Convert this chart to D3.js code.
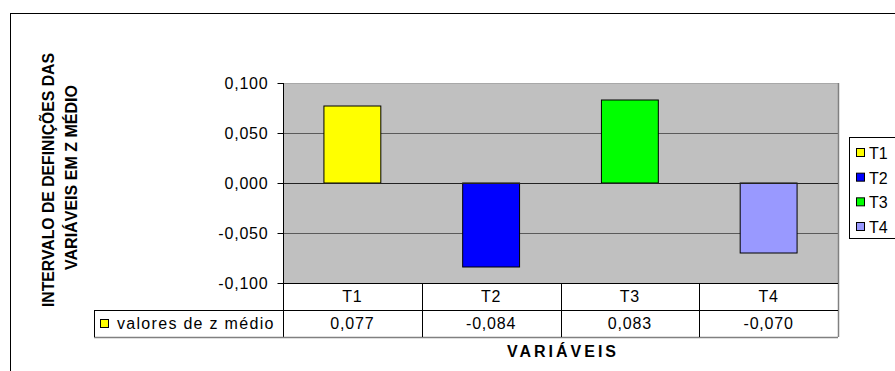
<!DOCTYPE html>
<html>
<head>
<meta charset="utf-8">
<script src="https://cdn.jsdelivr.net/npm/d3@7"></script>
<style>
  html, body { margin: 0; padding: 0; background: #fff; }
  svg { display: block; }
  text { font-family: "Liberation Sans", Arial, sans-serif; fill: #000; }
</style>
</head>
<body>
<svg id="chart" width="895" height="371"></svg>
<script>
// Treatments and their mean z values
const categories = ["T1", "T2", "T3", "T4"];
const values = [0.077, -0.084, 0.083, -0.070];
const colors = ["#FFFF00", "#0000FF", "#00FF00", "#9999FF"];
const yTicks = [0.1, 0.05, 0, -0.05, -0.1];
const seriesName = "valores de z médio";
const yTitle = ["INTERVALO DE DEFINIÇÕES DAS", "VARIÁVEIS EM Z MÉDIO"];
const xTitle = "VARIÁVEIS";

const svg = d3.select("#chart");
const ptBR = d3.formatLocale({ decimal: ",", thousands: ".", grouping: [3], currency: ["R$", ""], minus: "-" });
const fmt = ptBR.format(".3f");

const plot = { left: 283, right: 838, top: 83, bottom: 283 };
const rowH = 27;
const tableLeft = 94;

const x = d3.scaleBand().domain(categories).range([plot.left, plot.right]).padding(0);
const y = d3.scaleLinear().domain([-0.1, 0.1]).range([plot.bottom, plot.top]);
const barW = x.bandwidth() * 0.41;

// outer frame
svg.append("rect").attr("x", 10.5).attr("y", 13.5).attr("width", 900).attr("height", 400)
  .attr("fill", "none").attr("stroke", "#000");

// plot background
svg.append("rect").attr("x", plot.left).attr("y", plot.top)
  .attr("width", plot.right - plot.left).attr("height", plot.bottom - plot.top)
  .attr("fill", "#C0C0C0");
svg.append("line").attr("x1", plot.left).attr("x2", plot.right)
  .attr("y1", plot.top + 0.5).attr("y2", plot.top + 0.5).attr("stroke", "#a8a8a8");

// gridlines
svg.append("g").selectAll("line").data(yTicks.filter(t => t !== 0 && t !== -0.1 && t !== 0.1))
  .join("line")
  .attr("x1", plot.left).attr("x2", plot.right)
  .attr("y1", d => Math.round(y(d)) + 0.5).attr("y2", d => Math.round(y(d)) + 0.5)
  .attr("stroke", "#5a5a5a").attr("stroke-width", 1.2);

// plot right border
svg.append("line").attr("x1", plot.right + 0.5).attr("x2", plot.right + 0.5)
  .attr("y1", plot.top).attr("y2", plot.bottom + 2 * rowH).attr("stroke", "#808080").attr("stroke-width", 1.5);

// bars
svg.append("g").selectAll("rect").data(categories).join("rect")
  .attr("x", d => x(d) + (x.bandwidth() - barW) / 2)
  .attr("y", (d, i) => y(Math.max(0, values[i])))
  .attr("width", barW)
  .attr("height", (d, i) => Math.abs(y(values[i]) - y(0)))
  .attr("fill", (d, i) => colors[i])
  .attr("stroke", "#000").attr("stroke-width", 1);

// zero line
svg.append("line").attr("x1", plot.left).attr("x2", plot.right)
  .attr("y1", y(0) + 0.5).attr("y2", y(0) + 0.5).attr("stroke", "#222");

// y axis
const yAxis = d3.axisLeft(y).tickValues(yTicks).tickFormat(fmt).tickSize(6).tickPadding(9);
const gy = svg.append("g").attr("transform", `translate(${plot.left + 0.5},0)`).call(yAxis);
gy.select(".domain").remove();
gy.append("line").attr("x1", 0).attr("x2", 0).attr("y1", plot.top).attr("y2", plot.bottom + 2 * rowH).attr("stroke", "#000");
gy.selectAll(".tick line").attr("stroke", "#000");
gy.selectAll(".tick text").attr("font-size", 16).attr("letter-spacing", 0.8)
  .style("font-family", "'Liberation Sans', Arial, sans-serif").attr("fill", "#000");

// data table
const table = svg.append("g");
[plot.bottom, plot.bottom + rowH, plot.bottom + 2 * rowH].forEach((yy, i) => {
  table.append("line")
    .attr("x1", i === 0 ? plot.left : tableLeft).attr("x2", plot.right)
    .attr("y1", yy + 0.5).attr("y2", yy + 0.5)
    .attr("stroke", i === 2 ? "#808080" : "#000").attr("stroke-width", i === 2 ? 1.5 : 1);
});
table.append("line").attr("x1", tableLeft + 0.5).attr("x2", tableLeft + 0.5)
  .attr("y1", plot.bottom + rowH).attr("y2", plot.bottom + 2 * rowH).attr("stroke", "#000");
categories.slice(1).forEach(c => {
  table.append("line").attr("x1", Math.round(x(c)) + 0.5).attr("x2", Math.round(x(c)) + 0.5)
    .attr("y1", plot.bottom).attr("y2", plot.bottom + 2 * rowH).attr("stroke", "#000");
});
table.selectAll("text.cat").data(categories).join("text").attr("class", "cat")
  .attr("x", d => x(d) + x.bandwidth() / 2).attr("y", plot.bottom + 19)
  .attr("text-anchor", "middle").attr("font-size", 16).attr("letter-spacing", 0.8)
  .text(d => d);
table.selectAll("text.val").data(values).join("text").attr("class", "val")
  .attr("x", (d, i) => x(categories[i]) + x.bandwidth() / 2).attr("y", plot.bottom + rowH + 19)
  .attr("text-anchor", "middle").attr("font-size", 16).attr("letter-spacing", 0.8)
  .text(d => fmt(d));
table.append("rect").attr("x", 100.5).attr("y", plot.bottom + rowH + 9.5).attr("width", 8).attr("height", 8)
  .attr("fill", "#FFFF00").attr("stroke", "#000");
table.append("text").attr("x", 117).attr("y", plot.bottom + rowH + 19)
  .attr("font-size", 16).attr("letter-spacing", 1.3).text(seriesName);

// axis titles
svg.append("text").attr("x", 563).attr("y", 357).attr("text-anchor", "middle")
  .attr("font-size", 16).attr("font-weight", "bold").attr("letter-spacing", 3).text(xTitle);
svg.append("text").attr("transform", "translate(54,180) rotate(-90)").attr("text-anchor", "middle")
  .attr("font-size", 16).attr("font-weight", "bold")
  .attr("textLength", 254).attr("lengthAdjust", "spacingAndGlyphs").text(yTitle[0]);
svg.append("text").attr("transform", "translate(77,177.5) rotate(-90)").attr("text-anchor", "middle")
  .attr("font-size", 16).attr("font-weight", "bold")
  .attr("textLength", 185).attr("lengthAdjust", "spacingAndGlyphs").text(yTitle[1]);

// legend
const legend = svg.append("g");
legend.append("rect").attr("x", 849.5).attr("y", 137.5).attr("width", 60).attr("height", 101)
  .attr("fill", "#fff").attr("stroke", "#000");
const ly = d3.scalePoint().domain(categories).range([153, 227]);
categories.forEach((c, i) => {
  legend.append("rect").attr("x", 856.5).attr("y", ly(c) - 4.5).attr("width", 8).attr("height", 8)
    .attr("fill", colors[i]).attr("stroke", "#000");
  legend.append("text").attr("x", 869).attr("y", ly(c) + 6).attr("font-size", 16).text(c);
});
</script>
</body>
</html>
